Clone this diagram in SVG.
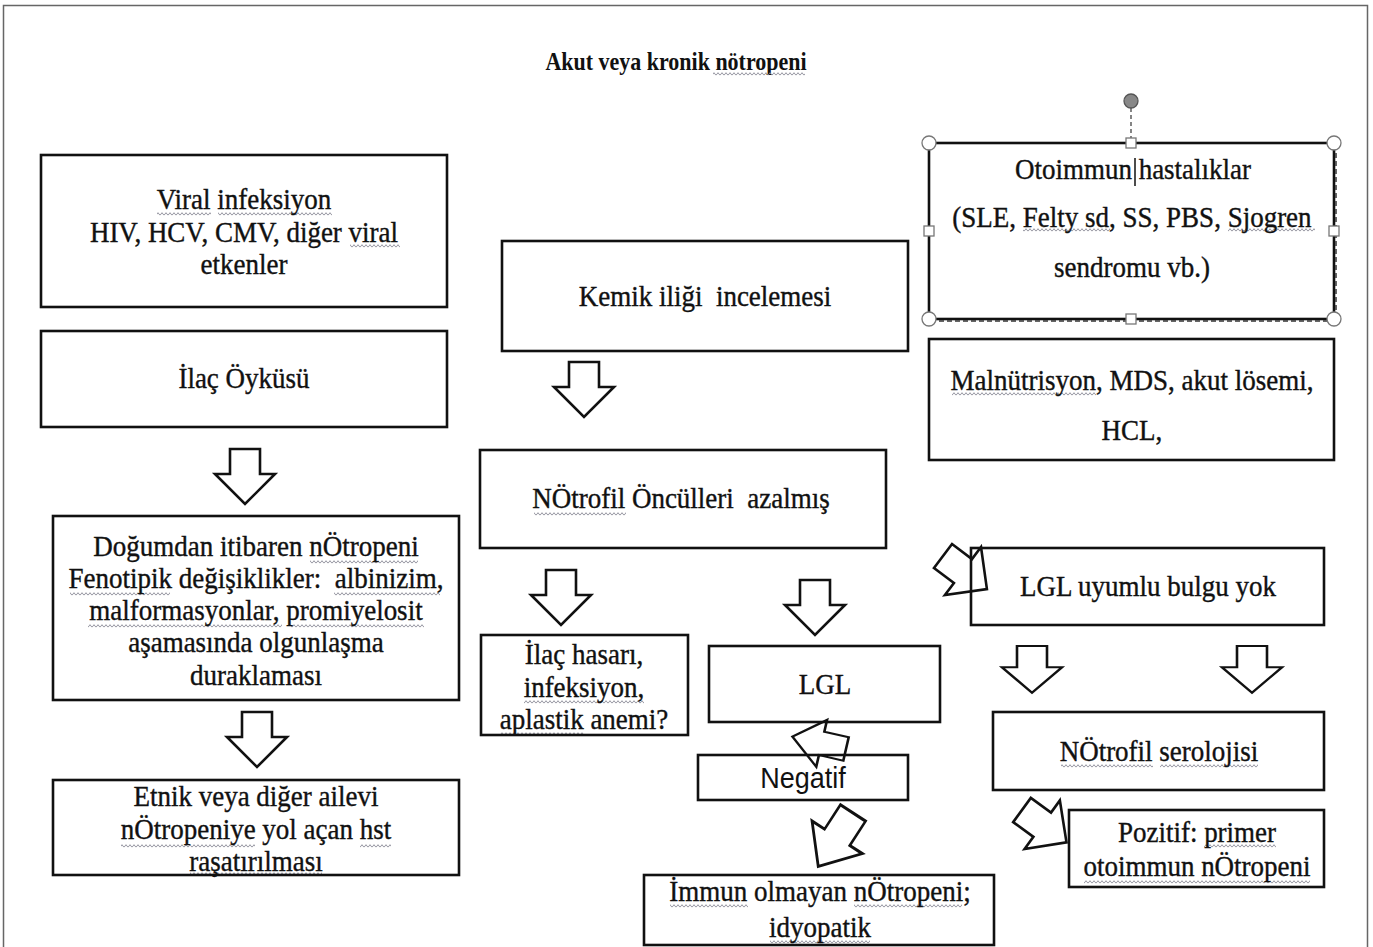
<svg xmlns="http://www.w3.org/2000/svg" width="1373" height="947" viewBox="0 0 1373 947">
<defs>
<style>
.box{fill:none;stroke:#111;stroke-width:2.6}
.t{font-family:"Liberation Serif","Times New Roman",serif;font-size:27px;fill:#111;stroke:#111;stroke-width:0.35;text-anchor:middle;transform-box:fill-box;transform-origin:50% 50%;transform:scaleY(1.1)}
.ts{font-family:"Liberation Sans",Arial,sans-serif;font-size:27px;fill:#111;text-anchor:middle;transform-box:fill-box;transform-origin:50% 50%;transform:scaleY(1.1)}
.arr{fill:#fff;stroke:#111;stroke-width:2.6;stroke-linejoin:miter}
.h{fill:#fff;stroke:#777;stroke-width:1.3}
.w{fill:url(#wave)}
</style>
<pattern id="wave" width="4" height="4" patternUnits="userSpaceOnUse">
<path d="M0,3.3 L2,0.7 L4,3.3" fill="none" stroke="#8a8a96" stroke-width="0.9"/>
</pattern>
<path id="arr" d="M-15,0 H15 V25 H30 L0,55 L-30,25 H-15 Z"/>
</defs>
<rect x="0" y="0" width="1373" height="947" fill="#fff"/>
<path d="M3.5,960 V5.5 H1367.5 V960" fill="none" stroke="#666" stroke-width="1.5"/>

<text class="t" x="676" y="69" style="font-size:22px;font-weight:bold;stroke-width:0">Akut veya kronik nötropeni</text>

<g id="connectors">
<use href="#arr" class="arr" transform="translate(245,449)"/>
<use href="#arr" class="arr" transform="translate(257,712)"/>
<use href="#arr" class="arr" transform="translate(584,362)"/>
<use href="#arr" class="arr" transform="translate(561,570)"/>
<use href="#arr" class="arr" transform="translate(815,580)"/>
<use href="#arr" class="arr" transform="translate(1032,646) scale(1,0.85)"/>
<use href="#arr" class="arr" transform="translate(1252,646) scale(1,0.85)"/>
<use href="#arr" class="arr" transform="translate(943,556) rotate(-53)"/>
<use href="#arr" class="arr" transform="translate(846,749) rotate(103) scale(0.8,1)"/>
<use href="#arr" class="arr" transform="translate(853,813) rotate(33) scale(1,1.16)"/>
<use href="#arr" class="arr" transform="translate(1022,810) rotate(-54)"/>
</g>

<g id="spelling">
<rect class="w" x="713" y="72" width="92" height="4"/>
<rect class="w" x="157" y="212" width="54" height="4"/>
<rect class="w" x="218" y="212" width="114" height="4"/>
<rect class="w" x="350" y="244" width="50" height="4"/>
<rect class="w" x="1023" y="228" width="87" height="4"/>
<rect class="w" x="1228" y="228" width="87" height="4"/>
<rect class="w" x="952" y="392" width="144" height="4"/>
<rect class="w" x="534" y="512" width="92" height="4"/>
<rect class="w" x="310" y="560" width="108" height="4"/>
<rect class="w" x="70" y="592" width="100" height="4"/>
<rect class="w" x="334" y="592" width="106" height="4"/>
<rect class="w" x="88" y="624" width="194" height="4"/>
<rect class="w" x="290" y="624" width="134" height="4"/>
<rect class="w" x="524" y="700" width="120" height="4"/>
<rect class="w" x="500" y="732" width="84" height="4"/>
<rect class="w" x="1061" y="764" width="92" height="4"/>
<rect class="w" x="1160" y="764" width="98" height="4"/>
<rect class="w" x="121" y="844" width="134" height="4"/>
<rect class="w" x="360" y="844" width="31" height="4"/>
<rect class="w" x="190" y="872" width="132" height="4"/>
<rect class="w" x="1204" y="844" width="72" height="4"/>
<rect class="w" x="1084" y="880" width="226" height="4"/>
<rect class="w" x="670" y="904" width="78" height="4"/>
<rect class="w" x="854" y="904" width="108" height="4"/>
<rect class="w" x="770" y="940" width="100" height="4"/>
</g>

<g id="viral">
<rect class="box" x="41" y="155" width="406" height="152"/>
<text class="t" x="244" y="208">Viral infeksiyon</text>
<text class="t" x="244" y="241">HIV, HCV, CMV, diğer viral</text>
<text class="t" x="244" y="273">etkenler</text>
</g>

<g id="ilac">
<rect class="box" x="41" y="331" width="406" height="96"/>
<text class="t" x="244" y="387">İlaç Öyküsü</text>
</g>

<g id="dogum">
<rect class="box" x="53" y="516" width="406" height="184"/>
<text class="t" x="256" y="555">Doğumdan itibaren nÖtropeni</text>
<text class="t" x="256" y="587" xml:space="preserve">Fenotipik değişiklikler:  albinizim,</text>
<text class="t" x="256" y="619">malformasyonlar, promiyelosit</text>
<text class="t" x="256" y="651">aşamasında olgunlaşma</text>
<text class="t" x="256" y="684">duraklaması</text>
</g>

<g id="etnik">
<rect class="box" x="53" y="780" width="406" height="95"/>
<text class="t" x="256" y="805">Etnik veya diğer ailevi</text>
<text class="t" x="256" y="838">nÖtropeniye yol açan hst</text>
<text class="t" x="256" y="870">raşatırılması</text>
</g>

<g id="kemik">
<rect class="box" x="502" y="241" width="406" height="110"/>
<text class="t" x="705" y="305" xml:space="preserve">Kemik iliği  incelemesi</text>
</g>

<g id="oncul">
<rect class="box" x="480" y="450" width="406" height="98"/>
<text class="t" x="681" y="507" xml:space="preserve">NÖtrofil Öncülleri  azalmış</text>
</g>

<g id="hasar">
<rect class="box" x="481" y="635" width="207" height="100"/>
<text class="t" x="584" y="663">İlaç hasarı,</text>
<text class="t" x="584" y="696">infeksiyon,</text>
<text class="t" x="584" y="728">aplastik anemi?</text>
</g>

<g id="lgl">
<rect class="box" x="709" y="646" width="231" height="76"/>
<text class="t" x="825" y="693">LGL</text>
</g>

<g id="negatif">
<rect class="box" x="698" y="755" width="210" height="45"/>
<text class="ts" x="803" y="787">Negatif</text>
</g>

<g id="immun">
<rect class="box" x="644" y="875" width="350" height="70"/>
<text class="t" x="820" y="900">İmmun olmayan nÖtropeni;</text>
<text class="t" x="820" y="936">idyopatik</text>
</g>

<g id="otoimmun">
<rect class="box" x="929" y="143" width="405" height="176"/>
<path d="M1336,145 V321 H931" fill="none" stroke="#333" stroke-width="1.5" stroke-dasharray="5,3"/>
<text class="t" x="1133" y="178">Otoimmun hastalıklar</text>
<line x1="1135" y1="158" x2="1135" y2="186" stroke="#111" stroke-width="1.5"/>
<text class="t" x="1132" y="226">(SLE, Felty sd, SS, PBS, Sjogren</text>
<text class="t" x="1132" y="276">sendromu vb.)</text>
<line x1="1131" y1="108" x2="1131" y2="138" stroke="#444" stroke-width="1.3" stroke-dasharray="4,3"/>
<circle cx="1131" cy="101" r="7" fill="#888" stroke="#555" stroke-width="1.3"/>
<circle class="h" cx="929" cy="143" r="7"/>
<circle class="h" cx="1334" cy="143" r="7"/>
<circle class="h" cx="929" cy="319" r="7"/>
<circle class="h" cx="1334" cy="319" r="7"/>
<rect class="h" x="1126" y="138" width="10" height="10"/>
<rect class="h" x="1126" y="314" width="10" height="10"/>
<rect class="h" x="924" y="226" width="10" height="10"/>
<rect class="h" x="1329" y="226" width="10" height="10"/>
</g>

<g id="maln">
<rect class="box" x="929" y="339" width="405" height="121"/>
<text class="t" x="1132" y="389">Malnütrisyon, MDS, akut lösemi,</text>
<text class="t" x="1132" y="439">HCL,</text>
</g>

<g id="lglyok">
<rect class="box" x="971" y="548" width="353" height="77"/>
<text class="t" x="1148" y="595">LGL uyumlu bulgu yok</text>
</g>

<g id="seroloji">
<rect class="box" x="993" y="712" width="331" height="78"/>
<text class="t" x="1159" y="760">NÖtrofil serolojisi</text>
</g>

<g id="pozitif">
<rect class="box" x="1069" y="810" width="255" height="77"/>
<text class="t" x="1197" y="841">Pozitif: primer</text>
<text class="t" x="1197" y="875">otoimmun nÖtropeni</text>
</g>
</svg>
